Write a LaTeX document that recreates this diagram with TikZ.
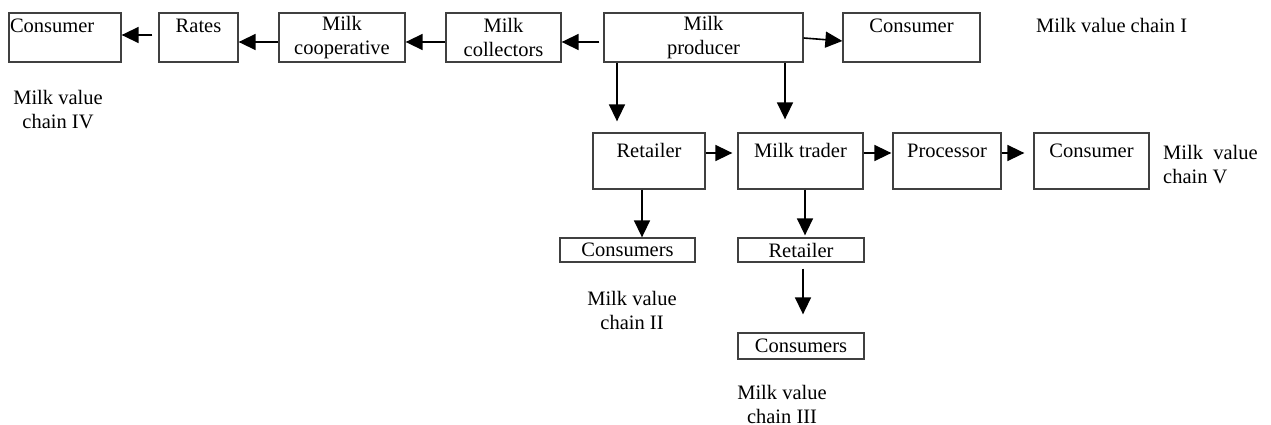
\documentclass[tikz,border=0pt]{standalone}
\usepackage{fontspec}
\setmainfont{Liberation Serif}
\usetikzlibrary{arrows.meta,calc}

\begin{document}
\begin{tikzpicture}[x=1pt,y=-1pt,>={Triangle[length=17pt,width=16pt]},
  box/.style={draw=black!75,line width=1.3pt,inner sep=0pt,align=center,font=\fontsize{20.5}{24}\selectfont},
  lbl/.style={inner sep=0pt,align=center,font=\fontsize{20.5}{24}\selectfont},
  link/.style={->,line width=1.6pt}]
  \useasboundingbox (0,0) rectangle (1271,425);
  % top row
  \node[box,minimum width=112,minimum height=49,text width=110,align=left] (con4) at (65,37.5) {Consumer\\~};
  \node[box,minimum width=79,minimum height=49] (rates) at (198.5,37.5) {Rates\\~};
  \node[box,minimum width=126,minimum height=49] (coop) at (342,37.5) {Milk\\cooperative};
  \node[box,minimum width=115,minimum height=49] (coll) at (503.5,37.5) {Milk\\collectors};
  \node[box,minimum width=199,minimum height=49] (prod) at (703.5,37.5) {Milk\\producer};
  \node[box,minimum width=137,minimum height=49] (con1) at (911.5,37.5) {Consumer\\~};
  % second row
  \node[box,minimum width=112,minimum height=56] (ret1) at (649,161) {Retailer\\[-3pt]~};
  \node[box,minimum width=125,minimum height=56] (trader) at (800.5,161) {Milk trader\\[-3pt]~};
  \node[box,minimum width=108,minimum height=56] (proc) at (947,161) {Processor\\[-3pt]~};
  \node[box,minimum width=115,minimum height=56] (con5) at (1091.5,161) {Consumer\\[-3pt]~};
  % lower boxes
  \node[box,minimum width=135,minimum height=24] (cons2) at (627.5,250) {Consumers};
  \node[box,minimum width=126,minimum height=24] (ret2) at (801,250) {Retailer};
  \node[box,minimum width=126,minimum height=26] (cons3) at (801,346) {Consumers};
  % chain labels
  \node[lbl,anchor=west] (v1) at (1036,25) {Milk value chain I};
  \node[lbl] (v4) at (58,110) {Milk value\\chain IV};
  \node[lbl] (v2) at (632,310) {Milk value\\chain II};
  \node[lbl] (v3) at (782,404) {Milk value\\chain III};
  \node[lbl,anchor=west,align=left] (v5) at (1163,165) {Milk~~value\\chain V};
  % arrows
  \draw[link,shorten <=4pt] (prod.west |- 0,42) -- (coll.east |- 0,42);
  \draw[link] (coll.west |- 0,42) -- (coop.east |- 0,42);
  \draw[link] (coop.west |- 0,42) -- (rates.east |- 0,42);
  \draw[link,shorten <=6pt] (rates.west |- 0,35) -- (con4.east |- 0,35);
  \draw[link] (prod.east |- 0,38) -- (con1.west |- 0,41);
  \draw[link,shorten >=11pt] (prod.south -| 617,0) -- (ret1.north -| 617,0);
  \draw[link,shorten >=13pt] (prod.south -| 785,0) -- (trader.north -| 785,0);
  \draw[link,shorten >=5pt] (ret1.east |- 0,153) -- (trader.west |- 0,153);
  \draw[link,shorten >=1pt] (trader.east |- 0,153) -- (proc.west |- 0,153);
  \draw[link,shorten >=9pt] (proc.east |- 0,153) -- (con5.west |- 0,153);
  \draw[link] (ret1.south -| 642,0) -- (cons2.north -| 642,0);
  \draw[link,shorten >=2pt] (trader.south -| 805,0) -- (ret2.north -| 805,0);
  \draw[link,shorten <=6pt,shorten >=18pt] (ret2.south -| 803,0) -- (cons3.north -| 803,0);
\end{tikzpicture}
\end{document}
